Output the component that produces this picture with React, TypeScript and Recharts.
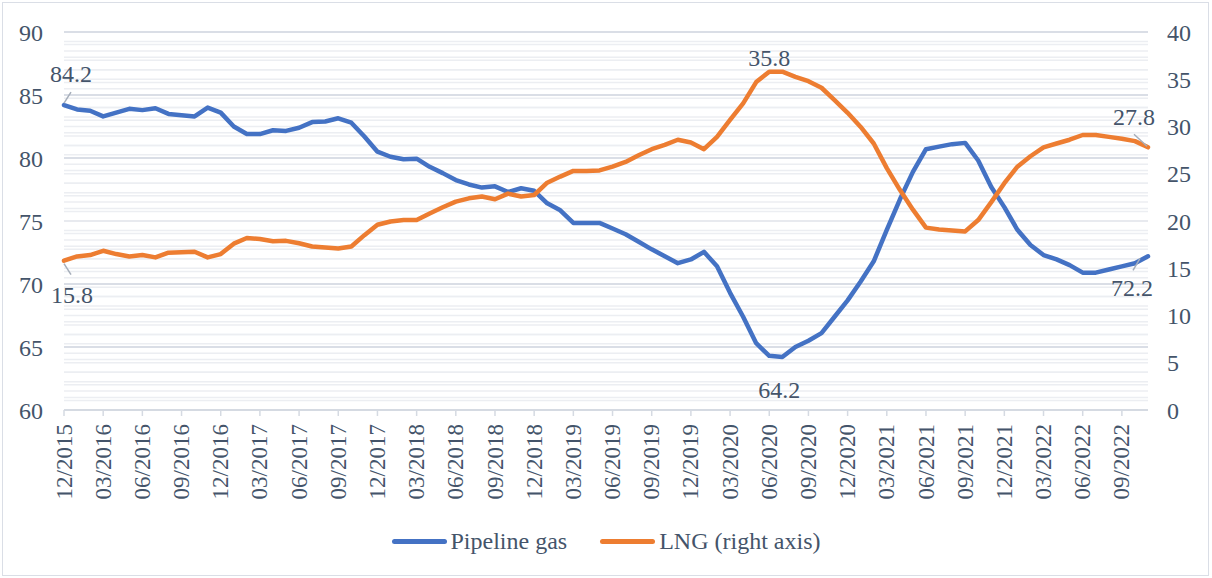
import React from 'react'
import { LineChart, Line, XAxis, YAxis, CartesianGrid, LabelList, ReferenceLine } from 'recharts'

const MONTHS = [
  '12/2015',
  '01/2016', '02/2016', '03/2016', '04/2016', '05/2016', '06/2016', '07/2016', '08/2016', '09/2016', '10/2016', '11/2016', '12/2016',
  '01/2017', '02/2017', '03/2017', '04/2017', '05/2017', '06/2017', '07/2017', '08/2017', '09/2017', '10/2017', '11/2017', '12/2017',
  '01/2018', '02/2018', '03/2018', '04/2018', '05/2018', '06/2018', '07/2018', '08/2018', '09/2018', '10/2018', '11/2018', '12/2018',
  '01/2019', '02/2019', '03/2019', '04/2019', '05/2019', '06/2019', '07/2019', '08/2019', '09/2019', '10/2019', '11/2019', '12/2019',
  '01/2020', '02/2020', '03/2020', '04/2020', '05/2020', '06/2020', '07/2020', '08/2020', '09/2020', '10/2020', '11/2020', '12/2020',
  '01/2021', '02/2021', '03/2021', '04/2021', '05/2021', '06/2021', '07/2021', '08/2021', '09/2021', '10/2021', '11/2021', '12/2021',
  '01/2022', '02/2022', '03/2022', '04/2022', '05/2022', '06/2022', '07/2022', '08/2022', '09/2022', '10/2022', '11/2022',
]

// share of pipeline gas, % (left axis)
const PIPELINE = [
  84.2, 83.85, 83.75, 83.3, 83.6, 83.9, 83.8, 83.95, 83.5, 83.4,
  83.3, 84.0, 83.6, 82.5, 81.9, 81.9, 82.2, 82.15, 82.4, 82.85,
  82.9, 83.15, 82.8, 81.7, 80.5, 80.1, 79.9, 79.95,
  79.3, 78.8, 78.25, 77.9, 77.65, 77.75, 77.3, 77.6, 77.4, 76.4,
  75.85, 74.85, 74.85, 74.85, 74.4, 73.95, 73.35, 72.75, 72.2, 71.65,
  71.95, 72.55, 71.4, 69.3, 67.4, 65.3, 64.3, 64.2, 65.0, 65.5,
  66.1, 67.4, 68.7, 70.2, 71.8, 74.3, 76.7, 78.9, 80.7, 80.9,
  81.1, 81.2, 79.8, 77.7, 76.1, 74.3, 73.1, 72.3, 71.95, 71.5,
  70.9, 70.9, 71.15, 71.4, 71.65, 72.2,
]

// share of LNG, % (right axis)
const LNG = [
  15.8, 16.25, 16.4, 16.85, 16.5, 16.25, 16.4, 16.15, 16.65, 16.7,
  16.75, 16.15, 16.5, 17.6, 18.2, 18.1, 17.85, 17.9, 17.65, 17.3,
  17.2, 17.1, 17.3, 18.5, 19.6, 19.95, 20.1, 20.1,
  20.8, 21.45, 22.05, 22.4, 22.6, 22.3, 22.9, 22.6, 22.75, 24.05,
  24.7, 25.3, 25.3, 25.35, 25.75, 26.25, 26.95, 27.6, 28.05, 28.6,
  28.3, 27.6, 28.9, 30.7, 32.45, 34.7, 35.8, 35.8, 35.25, 34.8,
  34.1, 32.8, 31.45, 29.95, 28.2, 25.6, 23.3, 21.2, 19.3, 19.1,
  19.0, 18.9, 20.1, 22.0, 24.0, 25.75, 26.85, 27.8, 28.2, 28.6,
  29.1, 29.1, 28.9, 28.7, 28.45, 27.8,
]

const LEFT_TICKS = [60, 65, 70, 75, 80, 85, 90]
const RIGHT_TICKS = [0, 5, 10, 15, 20, 25, 30, 35, 40]
// minor gridlines, one per unit on each axis
const LEFT_MINOR = [61, 62, 63, 64, 66, 67, 68, 69, 71, 72, 73, 74, 76, 77, 78, 79, 81, 82, 83, 84, 86, 87, 88, 89]
const RIGHT_MINOR = [1, 2, 3, 4, 5, 6, 7, 8, 9, 10, 11, 12, 13, 14, 15, 16, 17, 18, 19, 20, 21, 22, 23, 24, 25, 26, 27, 28, 29, 30, 31, 32, 33, 34, 35, 36, 37, 38, 39]

const data = MONTHS.map((month, i) => ({ month, pipeline: PIPELINE[i], lng: LNG[i] }))

const BLUE = '#4472C4'
const ORANGE = '#ED7D31'
const TEXT = '#44546A'
const FONT = '"Liberation Serif", "Times New Roman", serif'
const MINOR = '#ECEEF2'

type Spec = { dx: number; dy: number; lead?: [number, number, number, number] }

// label offsets from the point, with optional leader line
const PIPE_LABELS: Record<number, Spec> = {
  0: { dx: 7, dy: -23, lead: [0, -2, 7, -13] },
  55: { dx: -3, dy: 41 },
  83: { dx: -16, dy: 40, lead: [-8, 2, -15, 14] },
}
const LNG_LABELS: Record<number, Spec> = {
  0: { dx: 8, dy: 42, lead: [0, 3, 7, 14] },
  54: { dx: 0, dy: -6 },
  83: { dx: -14, dy: -22, lead: [-1, -1, -14, -13] },
}

const makeLabel = (specs: Record<number, Spec>) => (props: any) => {
  const { x, y, index, value } = props
  const s = specs[index]
  if (!s) return null
  return (
    <g>
      {s.lead && (
        <line x1={x + s.lead[0]} y1={y + s.lead[1]} x2={x + s.lead[2]} y2={y + s.lead[3]}
          stroke="#A6AEBA" strokeWidth={1.5} />
      )}
      <text x={x + s.dx} y={y + s.dy} textAnchor="middle" fill={TEXT} fontSize={24} fontFamily={FONT}>
        {Number(value).toFixed(1)}
      </text>
    </g>
  )
}

const XTick = ({ x, y, payload }: any) => (
  <text x={x} y={y} transform={`rotate(-90 ${x} ${y})`} textAnchor="end" dy="0.33em"
    fill={TEXT} fontSize={23} fontFamily={FONT}>
    {payload.value}
  </text>
)

const LegendItem = ({ color, label }: { color: string; label: string }) => (
  <div style={{ display: 'flex', alignItems: 'center' }}>
    <span style={{ display: 'inline-block', width: 55, height: 5, borderRadius: 3, background: color }} />
    <span style={{ marginLeft: 4, fontSize: 24, lineHeight: '24px', color: TEXT, fontFamily: FONT }}>{label}</span>
  </div>
)

export default function App() {
  return (
    <div style={{ position: 'relative', width: 1212, height: 578, background: '#fff' }}>
      <style>{'body{margin:0}'}</style>
      <div style={{ position: 'absolute', left: 2, top: 2, width: 1205, height: 572, border: '1px solid #DADEE6' }} />
      <LineChart width={1212} height={578} data={data} margin={{ top: 32, right: 0, bottom: 68, left: 0 }}>
        <CartesianGrid yAxisId="left" vertical={false} stroke="#DADEE6" strokeWidth={2} />
        {LEFT_MINOR.map(v => (
          <ReferenceLine key={`l${v}`} yAxisId="left" y={v} stroke={MINOR} strokeWidth={1.5} />
        ))}
        {RIGHT_MINOR.map(v => (
          <ReferenceLine key={`r${v}`} yAxisId="right" y={v} stroke={MINOR} strokeWidth={1.5} />
        ))}
        <XAxis
          dataKey="month"
          interval={2}
          height={100}
          tick={<XTick />}
          tickSize={6}
          tickMargin={8}
          axisLine={{ stroke: '#D5DAE2', strokeWidth: 2 }}
          tickLine={{ stroke: '#D5DAE2', strokeWidth: 1.5 }}
        />
        <YAxis
          yAxisId="left"
          domain={[60, 90]}
          ticks={LEFT_TICKS}
          width={64}
          axisLine={false}
          tickLine={false}
          tickSize={0}
          tickMargin={21}
          tick={{ fill: TEXT, fontSize: 24, fontFamily: FONT }}
        />
        <YAxis
          yAxisId="right"
          orientation="right"
          domain={[0, 40]}
          ticks={RIGHT_TICKS}
          width={64}
          axisLine={false}
          tickLine={false}
          tickSize={0}
          tickMargin={19}
          tick={{ fill: TEXT, fontSize: 24, fontFamily: FONT, textAnchor: 'start' }}
        />
        <Line yAxisId="left" dataKey="pipeline" stroke={BLUE} strokeWidth={4.5} dot={false}
          strokeLinejoin="round" strokeLinecap="round" isAnimationActive={false}>
          <LabelList dataKey="pipeline" content={makeLabel(PIPE_LABELS)} />
        </Line>
        <Line yAxisId="right" dataKey="lng" stroke={ORANGE} strokeWidth={4.5} dot={false}
          strokeLinejoin="round" strokeLinecap="round" isAnimationActive={false}>
          <LabelList dataKey="lng" content={makeLabel(LNG_LABELS)} />
        </Line>
      </LineChart>
      <div style={{ position: 'absolute', top: 529, left: 0, width: 1212, display: 'flex', justifyContent: 'center', gap: 33 }}>
        <LegendItem color={BLUE} label="Pipeline gas" />
        <LegendItem color={ORANGE} label="LNG (right axis)" />
      </div>
    </div>
  )
}
